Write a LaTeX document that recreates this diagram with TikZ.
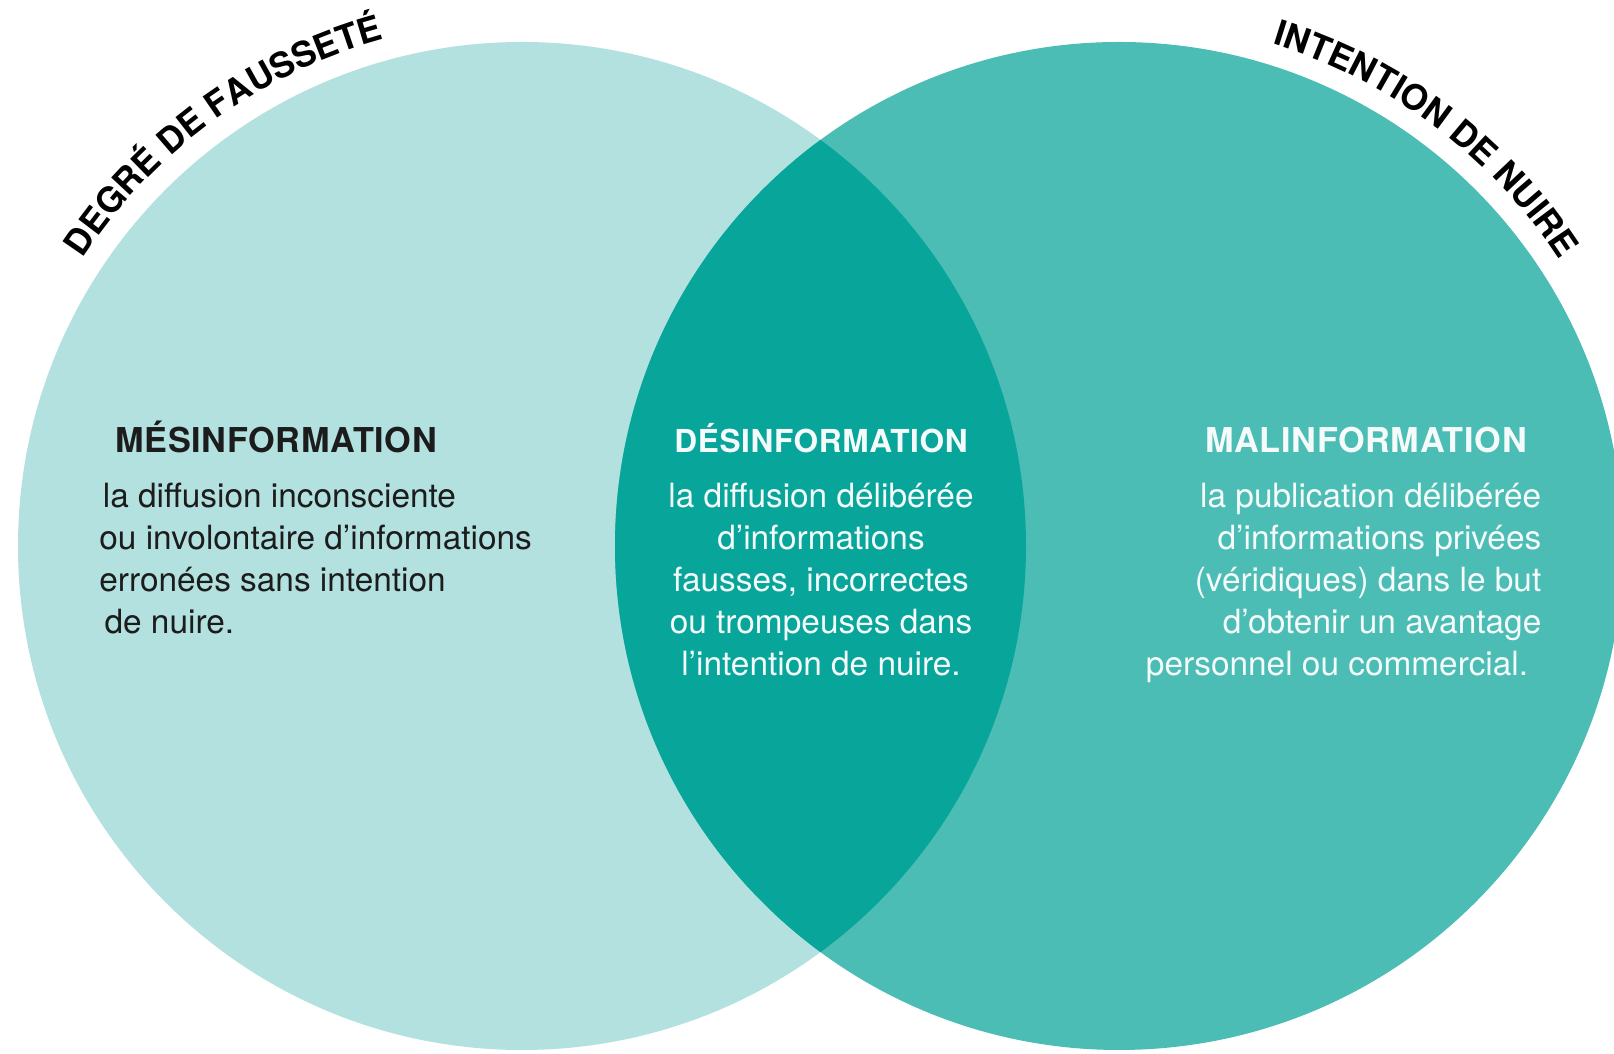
\documentclass[tikz,border=0pt]{standalone}
\usepackage{fontspec}
\setmainfont{TeX Gyre Heros}
\usetikzlibrary{positioning,decorations.text}
\definecolor{falsecol}{HTML}{B2E1DF}
\definecolor{harmcol}{HTML}{4CBDB5}
\definecolor{bothcol}{HTML}{08A59B}
\definecolor{inkdark}{HTML}{1C1C1C}
\definecolor{inklight}{HTML}{F4FBFA}

\begin{document}
\begin{tikzpicture}[x=0.02cm,y=0.02cm,
   heading/.style={inner sep=0pt,font=\fontsize{19.5}{22}\selectfont\bfseries\addfontfeature{LetterSpace=2}},
   blurb/.style={inner sep=0pt,font=\fontsize{19}{23.9}\selectfont},
   arclabel/.style={decorate,decoration={text along path,text align=center,
      text={|\fontsize{20}{24}\selectfont\bfseries|#1}}}]
  \useasboundingbox (0,0) rectangle (1614,1054);
  \clip (0,0) rectangle (1614,1054);
  \coordinate (lc) at (522,508);
  \coordinate (rc) at (1119,508);
  \fill[falsecol] (lc) circle[radius=504];
  \fill[harmcol] (rc) circle[radius=504];
  \begin{scope}
    \clip (lc) circle[radius=504];
    \fill[bothcol] (rc) circle[radius=504];
  \end{scope}
  \path[arclabel={DEGRÉ DE FAUSSETÉ}] ([shift={(156:525)}]lc) arc[start angle=156,end angle=96,radius=525];
  \path[arclabel={INTENTION DE NUIRE}] ([shift={(83:525)}]rc) arc[start angle=83,end angle=23,radius=525];
  \node[heading,text=inkdark,anchor=base west] (mestitle) at (115,601) {MÉSINFORMATION};
  \node[blurb,text=inkdark,align=left,below=5.8mm of mestitle.south west,anchor=north west,xshift=-3.2mm] (mestext)
       {\hspace*{2pt}la diffusion inconsciente\\ou involontaire d'informations\\erronées sans intention\\\hspace*{3pt}de nuire.};
  \node[heading,text=inklight,anchor=base,font=\fontsize{18}{22}\selectfont\bfseries\addfontfeature{LetterSpace=2}] (destitle) at (821,601) {DÉSINFORMATION};
  \node[blurb,text=inklight,align=center,below=5.8mm of destitle] (destext)
       {la diffusion délibérée\\d'informations\\fausses, incorrectes\\ou trompeuses dans\\l'intention de nuire.};
  \node[heading,text=inklight,anchor=base] (maltitle) at (1366,601) {MALINFORMATION};
  \node[blurb,text=inklight,align=right,below=5.8mm of maltitle.south east,anchor=north east,xshift=2.9mm] (maltext)
       {la publication délibérée\\d'informations privées\\(véridiques) dans le but\\d'obtenir un avantage\\personnel ou commercial.\hspace*{7.5pt}};
\end{tikzpicture}
\end{document}
